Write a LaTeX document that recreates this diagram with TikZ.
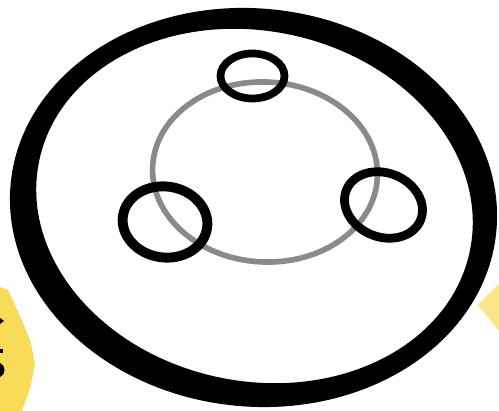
\documentclass[tikz,border=0pt]{standalone}
\usepackage{tikz}
\usetikzlibrary{calc}
\usepackage{xcolor}
\definecolor{marker}{HTML}{F8DC58}
\definecolor{orbitgray}{HTML}{8A8A8A}

\begin{document}
\begin{tikzpicture}[
    x=0.5mm,y=0.5mm,
    orbit/.style={draw=orbitgray,line width=8pt},
    loop/.style={draw=black,line width=11pt},
    blob/.style={fill=marker,draw=none}
]
  \useasboundingbox (0,0) rectangle (499,411);

  % Centres of the rim, the gray orbit and the three small loops.
  \coordinate (rimout) at (253.5,203.5);
  \coordinate (rimin)  at (254.5,205);
  \coordinate (mid)    at (265,239);
  \coordinate (top)    at (252.5,335);
  \coordinate (left)   at (165,189);
  \coordinate (right)  at (383.5,206);

  % Yellow scraps at the page edges.
  \fill[blob] (0,124) -- (8,121) -- (15,106) -- (23,88) -- (31,68)
    -- (35,46) -- (30,22) -- (22,0) -- (0,0) -- cycle;
  \fill[blob,opacity=0.7] (478,106) -- (499,127) -- (499,80) -- cycle;
  \fill[black] (0,93) -- (4,90) -- (0,87) -- cycle;
  \fill[black] (0,62) rectangle (3,58);
  \fill[black] (0,48) .. controls (6,46) and (6,36) .. (0,34) -- cycle;

  % Thick outer rim, heavier at the bottom.
  \fill[black,even odd rule]
    [rotate around={-6:(rimout)}] (rimout) ellipse [x radius=244,y radius=199]
    [rotate around={-6:(rimin)}]  (rimin)  ellipse [x radius=220,y radius=175];

  % Gray orbit.
  \draw[orbit,rotate around={-3:(mid)}] (mid) ellipse [x radius=112.5,y radius=90];

  % The three loops sitting on the orbit.
  \draw[loop] (top) ellipse [x radius=32,y radius=22.5];
  \draw[loop,line width=14pt,rotate around={-8:(left)}]
    (left) ellipse [x radius=42.5,y radius=35.5];
  \draw[loop,line width=12.5pt,rotate around={-22:(right)}]
    (right) ellipse [x radius=40,y radius=32];
\end{tikzpicture}
\end{document}
